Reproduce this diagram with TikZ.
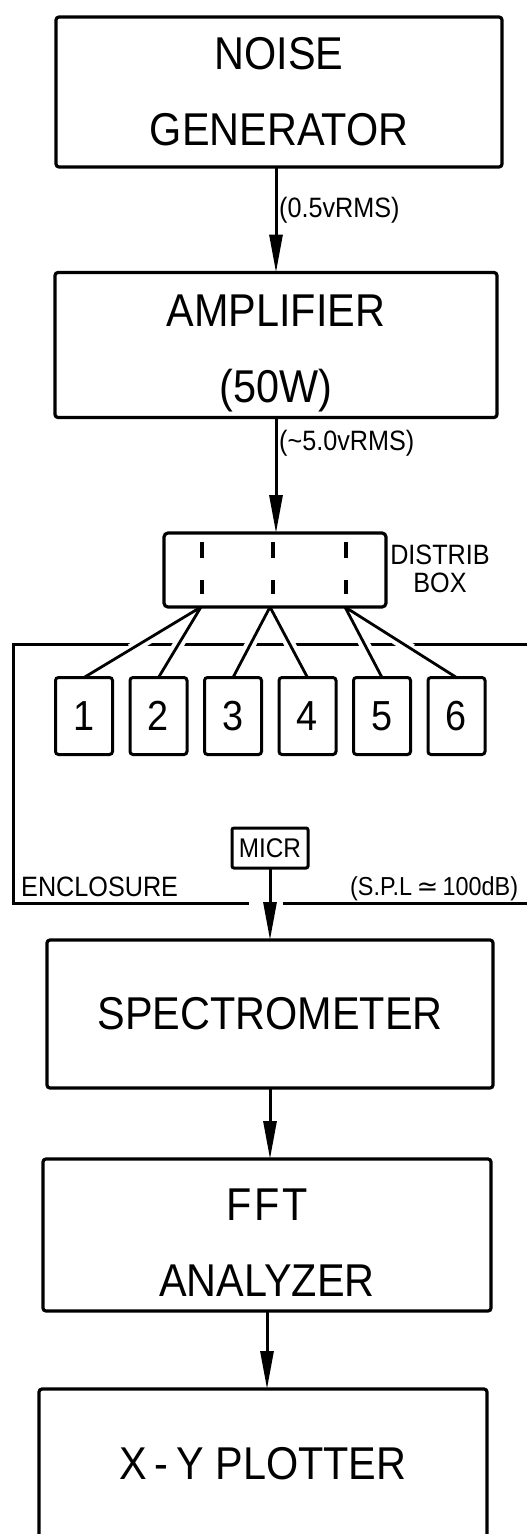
\documentclass[tikz,border=0pt]{standalone}
\usepackage{fontspec}
\setmainfont{Liberation Sans}[FakeStretch=0.9]
\newfontfamily\symfont{DejaVu Sans}
\usetikzlibrary{arrows.meta, positioning, calc}

\begin{document}
\begin{tikzpicture}[
    x=1pt, y=-1pt,
    >={Triangle[length=38pt,width=13pt]},
    unit/.style={
      draw, line width=3.2pt, rounded corners=3pt,
      minimum width=446pt, minimum height=148pt,
      align=center, inner sep=0pt, outer sep=0pt,
      font=\fontsize{46}{76}\selectfont
    },
    speaker/.style={
      draw, line width=3pt, rounded corners=3pt,
      minimum width=57pt, minimum height=77pt,
      inner sep=0pt, outer sep=0pt,
      font=\fontsize{42}{48}\selectfont
    },
    tag/.style={font=\fontsize{28}{30}\selectfont, inner sep=0pt, anchor=west},
    feed/.style={->, line width=3pt},
    wire/.style={line width=2.8pt},
    wall/.style={line width=3pt},
    gap/.style={draw=white, line width=11pt},
    slot/.style={line width=3.2pt, dash pattern=on 16pt off 22pt}
  ]

  \useasboundingbox (0,0) rectangle (527,1534);
  \clip (0,0) rectangle (527,1534);

  % signal chain
  \node[unit, minimum height=150pt] (noise) at (279,92) {NOISE\\GENERATOR};
  \node[unit, minimum width=442pt, minimum height=145pt] (amp) at (276,345)
    {\rule{0pt}{48pt}AMPLIFIER\\(50W)};
  \node[draw, line width=3.2pt, rounded corners=4pt, outer sep=0pt,
        minimum width=222pt, minimum height=74pt] (distrib) at (275,570) {};
  \node[font=\fontsize{28}{28}\selectfont, align=center, inner sep=0pt]
    (distriblbl) at (440,569) {DISTRIB\\BOX};

  \node[tag] (rmsin) at (279,210) {(0.5vRMS)};
  \node[tag] (rmsout) at (279,443) {(\textasciitilde 5.0vRMS)};

  % loudspeakers
  \node[speaker] (s1) at (84,716) {1};
  \node[speaker] (s2) at (158.5,716) {2};
  \node[speaker] (s3) at (233,716) {3};
  \node[speaker] (s4) at (307.5,716) {4};
  \node[speaker] (s5) at (382,716) {5};
  \node[speaker] (s6) at (456.5,716) {6};

  \node[draw, line width=3pt, rounded corners=2pt, outer sep=0pt,
        minimum width=76pt, minimum height=40pt, inner sep=0pt,
        font=\fontsize{27}{30}\selectfont] (micr) at (270,848) {MICR};

  \node[unit] (spec) at (270,1014) {SPECTROMETER};
  \node[unit, minimum width=448pt, minimum height=152pt] (fft) at (267,1235)
    {\rule{0pt}{46pt}F\kern3pt F\kern3pt T\\ANALYZER};
  \node[unit, minimum width=448pt, minimum height=150pt] (xy) at (263,1464)
    {X\,-\,Y PLOTTER};

  % enclosure
  \coordinate (encTL) at (13,644);
  \coordinate (encTR) at (530,644);
  \coordinate (encBL) at (13,903);
  \coordinate (encBR) at (530,903);
  \coordinate (gapL) at (249,903);
  \coordinate (gapR) at (283,903);
  \draw[wall] (encTR) -- (encTL) -- (encBL) -- (gapL);
  \draw[wall] (gapR) -- (encBR);
  \node[tag] (enclbl) at (21,887) {ENCLOSURE};
  \node[tag, font=\fontsize{26}{28}\selectfont] (spl) at (350,889)
    {(S.P.L\,{\symfont ≃}\,100dB)};

  % distribution box taps and wires
  \draw[slot] (202,542) -- (202,594) (273,542) -- (273,594) (346,542) -- (346,594);
  \coordinate (tapA) at (201,607);
  \coordinate (tapB) at (270,607);
  \coordinate (tapC) at (345,607);

  \draw[gap] ($(tapA)!.4!(s1.north)$) -- ($(tapA)!.6!(s1.north)$)
             ($(tapA)!.4!(s2.north)$) -- ($(tapA)!.6!(s2.north)$)
             ($(tapB)!.4!(s3.north)$) -- ($(tapB)!.6!(s3.north)$)
             ($(tapB)!.4!(s4.north)$) -- ($(tapB)!.6!(s4.north)$)
             ($(tapC)!.4!(s5.north)$) -- ($(tapC)!.6!(s5.north)$)
             ($(tapC)!.4!(s6.north)$) -- ($(tapC)!.6!(s6.north)$);
  \draw[wire] (tapA) -- (s1.north) (tapA) -- (s2.north)
              (tapB) -- (s3.north) (tapB) -- (s4.north)
              (tapC) -- (s5.north) (tapC) -- (s6.north);

  % arrows
  \draw[feed] (amp.north |- noise.south) -- (amp.north);
  \draw[feed] (amp.south) -- (amp.south |- distrib.north);
  \draw[feed] (micr.south) -- (micr.south |- spec.north);
  \draw[feed] (spec.south) -- (spec.south |- fft.north);
  \draw[feed] (fft.south) -- (fft.south |- xy.north);

\end{tikzpicture}
\end{document}
